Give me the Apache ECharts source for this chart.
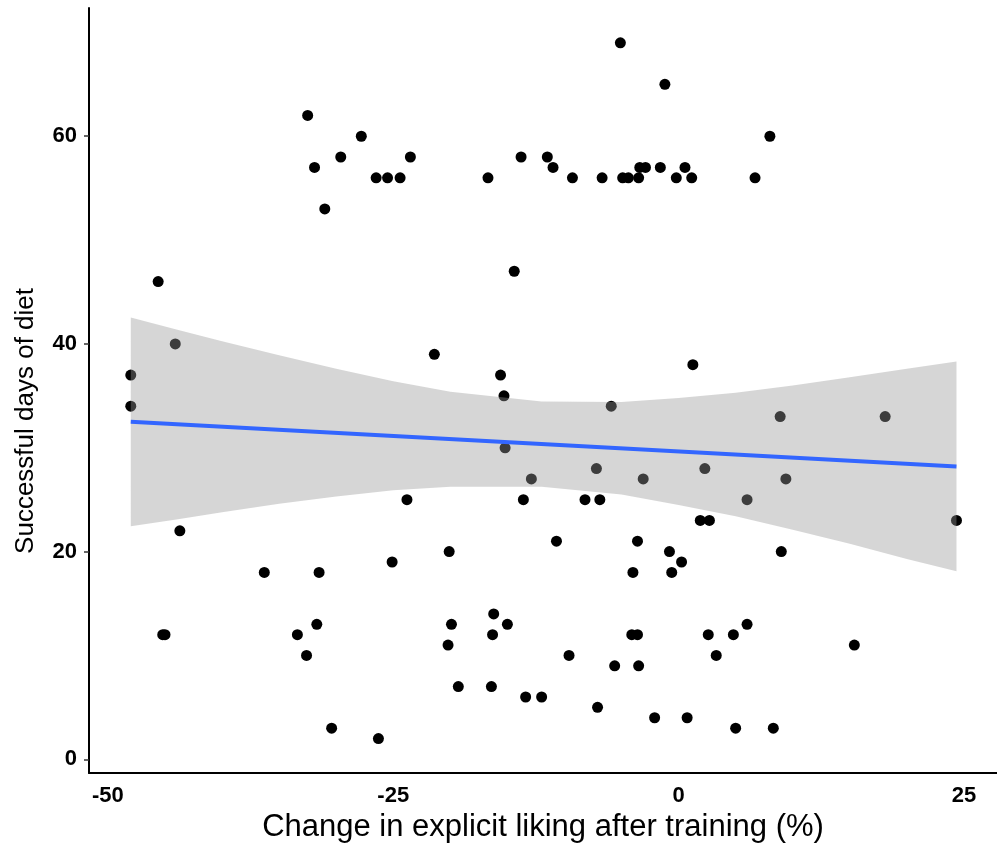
<!DOCTYPE html>
<html>
<head>
<meta charset="utf-8">
<title>Successful days of diet</title>
<script src="https://cdn.jsdelivr.net/npm/echarts@6/dist/echarts.min.js"></script>
<style>
  html, body {
    margin: 0;
    padding: 0;
    background: #ffffff;
  }
  #main {
    width: 997px;
    height: 852px;
  }
</style>
</head>
<body>
<div id="main"></div>
<script>
// 散点数据: [变化%, 天数]
var points = [
  [-5.1, 69], [-1.2, 65], [-32.5, 62], [-27.8, 60], [8.0, 60],
  [-29.6, 58], [-23.5, 58], [-13.8, 58], [-11.5, 58],
  [-31.9, 57], [-11.0, 57], [-3.4, 57], [-2.9, 57], [-1.6, 57], [0.56, 57],
  [-26.5, 56], [-25.5, 56], [-24.4, 56], [-16.7, 56], [-9.3, 56], [-6.7, 56],
  [-4.9, 56], [-4.4, 56], [-3.5, 56], [-0.2, 56], [1.15, 56], [6.7, 56],
  [-31.0, 53], [-14.4, 47], [-45.6, 46], [-44.1, 40], [-21.4, 39], [1.25, 38],
  [-48.0, 37], [-15.6, 37], [-15.3, 35], [-48.0, 34], [-5.9, 34],
  [8.9, 33], [18.1, 33], [-15.2, 30], [-7.2, 28], [2.3, 28],
  [-12.9, 27], [-3.1, 27], [9.4, 27],
  [-23.8, 25], [-13.6, 25], [-8.2, 25], [-6.9, 25], [6.0, 25],
  [1.9, 23], [2.7, 23], [24.35, 23], [-43.7, 22], [-10.7, 21], [-3.6, 21],
  [-20.1, 20], [-0.8, 20], [9.0, 20], [0.26, 19], [-25.1, 19],
  [-4.0, 18], [-0.6, 18], [-36.3, 18], [-31.5, 18], [-16.2, 14],
  [-19.9, 13], [-15.0, 13], [6.0, 13], [-31.7, 13],
  [-16.3, 12], [-4.1, 12], [-3.6, 12], [2.6, 12], [4.8, 12],
  [-45.2, 12], [-45.0, 12], [-33.4, 12],
  [-20.2, 11], [15.4, 11], [-9.6, 10], [3.3, 10], [-32.6, 10],
  [-5.6, 9], [-3.5, 9], [-19.3, 7], [-16.4, 7], [-13.4, 6], [-12.0, 6],
  [-7.1, 5], [-2.1, 4], [0.75, 4], [5.0, 3], [8.3, 3], [-30.4, 3], [-26.3, 2]
];

// 回归线
var fitX = [-48.0, 24.35];
var fitY = [32.5, 28.2];

// 置信区间
var bandX = [-48.0, -44, -40, -35, -30, -25, -20, -12, -5, 0, 5, 10, 15, 20, 24.35];
var bandLo = [22.45, 23.1, 23.8, 24.6, 25.3, 25.9, 26.25, 26.25, 25.5, 24.5, 23.4, 22.1, 20.75, 19.3, 18.1];
var bandHi = [42.55, 41.4, 40.25, 38.9, 37.6, 36.4, 35.4, 34.45, 34.4, 34.8, 35.3, 36.0, 36.8, 37.6, 38.3];

// 坐标轴刻度
var xTicks = [-50, -25, 0, 25];
var yTicks = [0, 20, 40, 60];

var chart = echarts.init(document.getElementById("main"));

var bandData = bandX.map(function (x, i) {
  return [x, bandLo[i], bandHi[i]];
});

var option = {
  animation: false,
  backgroundColor: "#ffffff",
  grid: {
    left: 89,
    right: 0,
    top: 8,
    bottom: 79,
    outerBoundsMode: "none"
  },
  xAxis: {
    type: "value",
    min: -51.66,
    max: 27.9,
    name: "Change in explicit liking after training (%)",
    nameLocation: "middle",
    nameGap: 39,
    nameTextStyle: {
      fontFamily: "Liberation Sans",
      fontSize: 31,
      color: "#000000"
    },
    axisLine: {
      onZero: false,
      lineStyle: { color: "#000000", width: 2 }
    },
    axisTick: { show: false },
    splitLine: { show: false },
    axisLabel: {
      margin: 12,
      fontFamily: "Liberation Sans",
      fontWeight: "bold",
      fontSize: 22,
      color: "#000000",
      customValues: xTicks
    }
  },
  yAxis: {
    type: "value",
    min: -1.32,
    max: 72.35,
    axisLine: {
      onZero: false,
      lineStyle: { color: "#000000", width: 2 }
    },
    axisTick: {
      show: true,
      length: 5,
      customValues: yTicks,
      lineStyle: { color: "#333333", width: 1.5 }
    },
    splitLine: { show: false },
    axisLabel: {
      margin: 12,
      fontFamily: "Liberation Sans",
      fontWeight: "bold",
      fontSize: 22,
      color: "#000000",
      customValues: yTicks
    }
  },
  graphic: [
    {
      type: "text",
      left: 13,
      top: 288,
      rotation: Math.PI / 2,
      style: {
        text: "Successful days of diet",
        font: '26px "Liberation Sans", sans-serif',
        fill: "#000000"
      }
    }
  ],
  series: [
    {
      name: "points",
      type: "scatter",
      symbolSize: 11,
      itemStyle: { color: "#000000", opacity: 1 },
      data: points,
      z: 2
    },
    {
      name: "band",
      type: "custom",
      data: bandData,
      z: 3,
      renderItem: function (params, api) {
        if (params.dataIndex !== 0) {
          return null;
        }
        var pts = [];
        for (var i = 0; i < bandX.length; i++) {
          pts.push(api.coord([bandX[i], bandHi[i]]));
        }
        for (var j = bandX.length - 1; j >= 0; j--) {
          pts.push(api.coord([bandX[j], bandLo[j]]));
        }
        return {
          type: "polygon",
          shape: { points: pts },
          style: { fill: "rgba(153,153,153,0.4)" }
        };
      }
    },
    {
      name: "fit",
      type: "line",
      symbol: "none",
      data: fitX.map(function (x, i) {
        return [x, fitY[i]];
      }),
      lineStyle: { color: "#3366FF", width: 4 },
      z: 4
    }
  ]
};

chart.setOption(option);
</script>
</body>
</html>
